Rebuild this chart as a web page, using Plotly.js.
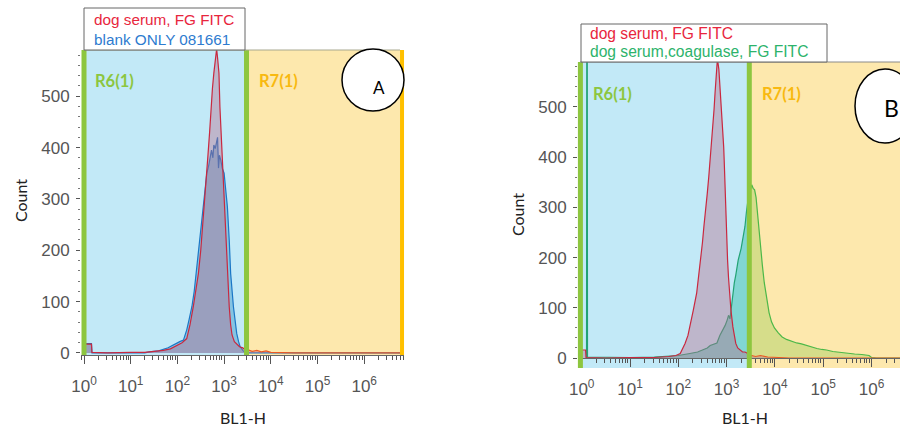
<!DOCTYPE html>
<html>
<head>
<meta charset="utf-8">
<script src="https://cdn.plot.ly/plotly-3.0.1.min.js"></script>
<style>html,body{margin:0;padding:0;background:#fff}#chart{width:900px;height:430px}</style>
</head>
<body>
<div id="chart"></div>
<script>
// ---------- data (x in log10 decades of BL1-H, y = Count) ----------
const tickValues = [1, 10, 100, 1000, 10000, 100000, 1000000];
const tickLabels = ['10<sup>0</sup>','10<sup>1</sup>','10<sup>2</sup>','10<sup>3</sup>','10<sup>4</sup>','10<sup>5</sup>','10<sup>6</sup>'];

// Panel A: dog serum, FG FITC
const redA_log   = [0.00,0.16,0.17,0.5,1.0,1.3,1.5,1.7,1.85,2.0,2.1,2.2,2.27,2.34,2.40,2.45,2.50,2.55,2.60,2.65,2.69,2.72,2.75,2.78,2.81,2.84,2.86,2.89,2.91,2.93,2.95,2.98,3.02,3.04,3.07,3.11,3.14,3.17,3.22,3.27,3.33,3.40,3.46,3.52,3.6,3.7,3.8,3.9,4.0,4.5,6.85];
const redA_count = [17,17,1,0,1,1,3,5,8,15,20,28,55,90,125,155,200,255,320,380,430,480,515,545,570,592,575,545,480,440,414,350,285,220,155,90,55,35,22,18,12,10,5,6,3,5,2,4,1,0,0];
// Panel A: blank ONLY 081661
const blueA_log   = [0.00,0.16,0.17,1.3,1.4,1.6,1.8,1.95,2.05,2.13,2.2,2.25,2.31,2.36,2.40,2.44,2.48,2.52,2.55,2.59,2.63,2.67,2.70,2.73,2.76,2.78,2.81,2.84,2.86,2.88,2.90,2.93,2.96,3.00,3.03,3.07,3.11,3.14,3.20,3.24,3.27,3.31,3.34,3.40,3.45,3.5,6.85];
const blueA_count = [18,18,0,0,2,4,10,18,22,25,45,65,90,120,155,185,220,250,285,320,350,365,385,395,380,405,398,410,420,360,385,375,360,350,320,285,220,155,90,55,38,22,13,5,1,0,0];

// Panel B: dog serum, FG FITC
const redB_log   = [0.00,0.08,0.09,0.5,1.0,1.5,1.8,1.95,2.04,2.14,2.20,2.24,2.31,2.38,2.42,2.46,2.50,2.53,2.57,2.60,2.63,2.66,2.69,2.71,2.74,2.76,2.78,2.81,2.84,2.86,2.88,2.90,2.92,2.94,2.95,2.97,2.99,3.00,3.02,3.04,3.06,3.09,3.13,3.16,3.19,3.23,3.28,3.33,3.38,3.42,3.46,3.52,3.6,3.7,3.85,4.0,4.3,6.6];
const redB_count = [16,16,1,0,1,1,3,5,9,29,45,62,95,129,160,195,230,262,295,328,360,394,430,460,495,527,555,596,575,545,527,495,460,420,394,328,295,262,195,160,129,95,62,45,29,20,15,12,12,10,4,5,3,5,2,1,0,0];
// Panel B: dog serum,coagulase, FG FITC
const greenB_log   = [0.10,0.11,0.12,0.5,1.0,1.5,1.8,2.0,2.24,2.4,2.5,2.6,2.66,2.75,2.8,2.86,2.92,2.97,3.01,3.04,3.07,3.10,3.13,3.16,3.19,3.24,3.30,3.38,3.41,3.45,3.49,3.52,3.55,3.58,3.61,3.64,3.67,3.70,3.74,3.78,3.83,3.88,3.93,3.99,4.07,4.15,4.24,4.35,4.45,4.55,4.65,4.75,4.87,4.97,5.07,5.2,5.35,5.5,5.65,5.8,5.95,6.0,6.1,6.6];
const greenB_count = [0,1200,2,1,1,2,3,5,9,12,16,20,25,28,30,45,55,65,75,85,78,105,129,150,165,195,218,262,290,320,335,345,338,335,320,285,255,220,185,150,115,90,72,60,50,42,37,33,30,28,25,22,19,17,16,13,11,9,8,7,5,1,0,0];

// gate boundaries (log10 decades)
const gateA = [0, 3.48, 6.81];
const gateB = [0, 3.47];

// ---------- geometry helpers ----------
const W = 900, H = 430;
const px = x => x / W;
const py = y => 1 - y / H;
const rangeA = [(81 - 84) / 46.7, (404 - 84) / 46.7];
const rangeB = [(578 - 581.7) / 48.3, (900 - 581.7) / 48.3];
const domA = v => (v - rangeA[0]) / (rangeA[1] - rangeA[0]);
const domB = v => (v - rangeB[0]) / (rangeB[1] - rangeB[0]);
const pow10 = a => a.map(v => Math.pow(10, v));

function part(logs, counts, lo, hi) {
  const xs = [], ys = [];
  for (let i = 0; i < logs.length; i++) {
    const inside = logs[i] >= lo && logs[i] <= hi;
    const prevIn = i > 0 && logs[i-1] >= lo && logs[i-1] <= hi;
    const nextIn = i < logs.length - 1 && logs[i+1] >= lo && logs[i+1] <= hi;
    if (inside || prevIn || nextIn) { xs.push(logs[i]); ys.push(counts[i]); }
  }
  return {x: pow10(xs), y: ys};
}

const redFill = 'rgba(185,106,138,0.4)';
const blueFill = 'rgba(60,150,200,0.45)';
const redLine = '#c9283f';
const redLineR7 = '#ec5a22';

const traces = [];
function addTrace(d, lineColor, fillColor, xa, ya) {
  traces.push({type:'scatter', mode:'lines', x:d.x, y:d.y, xaxis:xa, yaxis:ya,
    line:{color:lineColor, width:1.2}, fill:'tozeroy', fillcolor:fillColor, hoverinfo:'skip'});
}
// Panel A
addTrace(part(blueA_log, blueA_count, -1, 10), '#1b77c6', blueFill, 'x', 'y');
addTrace(part(redA_log, redA_count, -1, gateA[1]), redLine, redFill, 'x', 'y');
addTrace(part(redA_log, redA_count, gateA[1], 10), redLineR7, redFill, 'x', 'y');
// Panel B
addTrace(part(greenB_log, greenB_count, -1, gateB[1]), '#22a375', 'rgba(64,195,176,0.5)', 'x2', 'y2');
addTrace(part(greenB_log, greenB_count, gateB[1], 10), '#4cb848', 'rgba(175,209,104,0.5)', 'x2', 'y2');
addTrace(part(redB_log, redB_count, -1, gateB[1]), redLine, redFill, 'x2', 'y2');
addTrace(part(redB_log, redB_count, gateB[1], 10), redLineR7, redFill, 'x2', 'y2');

const gBlue = '#c2e9f7', gOrange = '#fde8ad', gGreen = '#8dc63f', gGold = '#ffc000';
const shapes = [
  // Panel A gates
  {type:'rect', xref:'x domain', yref:'y domain', x0:domA(gateA[0]), x1:domA(gateA[1]), y0:0, y1:1, fillcolor:gBlue, line:{width:0}, layer:'below'},
  {type:'rect', xref:'x domain', yref:'y domain', x0:domA(gateA[1]), x1:domA(gateA[2]), y0:0, y1:1, fillcolor:gOrange, line:{width:0}, layer:'below'},
  {type:'line', xref:'x domain', yref:'y domain', x0:domA(gateA[0]), x1:domA(gateA[0]), y0:0, y1:1, line:{color:gGreen, width:5}},
  {type:'line', xref:'x domain', yref:'y domain', x0:domA(gateA[1]), x1:domA(gateA[1]), y0:0, y1:1, line:{color:gGreen, width:5}},
  {type:'line', xref:'x domain', yref:'y domain', x0:domA(gateA[2]), x1:domA(gateA[2]), y0:0, y1:1, line:{color:gGold, width:4}},
  {type:'line', xref:'paper', yref:'paper', x0:px(84), x1:px(400), y0:py(50), y1:py(50), line:{color:'#a8a890', width:1}},
  // Panel B gates
  {type:'rect', xref:'x2 domain', yref:'y2 domain', x0:domB(gateB[0]), x1:domB(gateB[1]), y0:0, y1:1, fillcolor:gBlue, line:{width:0}, layer:'below'},
  {type:'rect', xref:'x2 domain', yref:'y2 domain', x0:domB(gateB[1]), x1:1, y0:0, y1:1, fillcolor:gOrange, line:{width:0}, layer:'below'},
  {type:'line', xref:'x2 domain', yref:'y2 domain', x0:domB(gateB[0]) - 0.004, x1:domB(gateB[0]) - 0.004, y0:0, y1:1, line:{color:gGreen, width:5}},
  {type:'line', xref:'x2 domain', yref:'y2 domain', x0:domB(gateB[1]), x1:domB(gateB[1]), y0:0, y1:1, line:{color:gGreen, width:5}},
  {type:'line', xref:'paper', yref:'paper', x0:px(580), x1:1, y0:py(62), y1:py(62), line:{color:'#8a8a8a', width:1}},
  // legend boxes
  {type:'rect', xref:'paper', yref:'paper', x0:px(84), x1:px(245), y0:py(50), y1:py(8), fillcolor:'#fff', line:{color:'#666', width:1}},
  {type:'rect', xref:'paper', yref:'paper', x0:px(581), x1:px(827), y0:py(62), y1:py(24), fillcolor:'#fff', line:{color:'#666', width:1}},
  // panel markers
  {type:'circle', xref:'paper', yref:'paper', x0:px(342), x1:px(404), y0:py(111), y1:py(49), fillcolor:'#fff', line:{color:'#000', width:1.5}},
  {type:'circle', xref:'paper', yref:'paper', x0:px(855), x1:px(915), y0:py(143), y1:py(69), fillcolor:'#fff', line:{color:'#000', width:1.5}}
];

const legFont = 'Liberation Sans, Arial, sans-serif';
const calFont = 'Lato, Carlito, sans-serif';
function ann(x, y, text, opts) {
  return Object.assign({xref:'paper', yref:'paper', x:px(x), y:py(y), text:text, showarrow:false,
    xanchor:'center', yanchor:'middle', font:{family:calFont, size:16, color:'#222'}}, opts || {});
}
const annotations = [
  ann(92, 20, 'dog serum, FG FITC', {xanchor:'left', font:{family:legFont, size:15.3, color:'#e8263d'}}),
  ann(92, 40, 'blank ONLY 081661', {xanchor:'left', font:{family:legFont, size:15.3, color:'#2e7bcf'}}),
  ann(588, 34, 'dog serum, FG FITC', {xanchor:'left', font:{family:legFont, size:15.6, color:'#e8263d'}}),
  ann(588, 52, 'dog serum,coagulase, FG FITC', {xanchor:'left', font:{family:legFont, size:15.6, color:'#2db36b'}}),
  ann(115, 81, '<b>R6(1)</b>', {font:{family:calFont, size:16.5, color:'#8cc63f'}}),
  ann(278, 81, '<b>R7(1)</b>', {font:{family:calFont, size:16.5, color:'#f8b910'}}),
  ann(612, 94, '<b>R6(1)</b>', {font:{family:calFont, size:16.5, color:'#8cc63f'}}),
  ann(781, 94, '<b>R7(1)</b>', {font:{family:calFont, size:16.5, color:'#f8b910'}}),
  ann(379, 87, 'A', {font:{family:calFont, size:17, color:'#000'}}),
  ann(891, 108, 'B', {font:{family:calFont, size:23, color:'#000'}}),
  ann(20, 201, 'Count', {textangle:-90, font:{family:calFont, size:16, color:'#222'}}),
  ann(517, 215, 'Count', {textangle:-90, font:{family:calFont, size:16, color:'#222'}}),
  ann(243, 417, 'BL1-H', {font:{family:calFont, size:16, color:'#222'}}),
  ann(745, 417, 'BL1-H', {font:{family:calFont, size:16, color:'#222'}})
];

const tickFont = {family:'Liberation Sans, Arial, sans-serif', size:17, color:'#555'};
function xAxis(domain, range, extra) {
  return Object.assign({domain:domain, type:'log', range:range, tickmode:'array', tickvals:tickValues, ticktext:tickLabels,
    ticks:'outside', ticklen:8, tickcolor:'#555', tickwidth:1, showline:true, linecolor:'#666', linewidth:1,
    showgrid:false, zeroline:false, tickfont:tickFont, ticklabelstandoff:8, fixedrange:true,
    minor:{ticks:'outside', ticklen:4, tickcolor:'#555', dtick:'D1', showgrid:false}}, extra);
}
function yAxis(domain, range, extra) {
  return Object.assign({domain:domain, range:range, tick0:0, dtick:100, ticks:'outside', ticklen:4, tickcolor:'#555',
    showline:false, showgrid:false, zeroline:false, tickfont:tickFont, ticklabelstandoff:3, fixedrange:true,
    minor:{ticks:'outside', ticklen:2, tickcolor:'#777', dtick:20, showgrid:false}}, extra);
}

const layout = {
  width:W, height:H, autosize:false, showlegend:false,
  margin:{l:0, r:0, t:0, b:0},
  paper_bgcolor:'#fff', plot_bgcolor:'rgba(0,0,0,0)',
  xaxis: xAxis([px(81), px(404)], rangeA, {anchor:'y'}),
  yaxis: yAxis([py(355), py(50)], [-4, 590], {anchor:'x'}),
  xaxis2: xAxis([px(578), 1], rangeB, {anchor:'free', position:py(358)}),
  yaxis2: yAxis([py(368), py(62)], [-19.9, 589.6], {anchor:'x2'}),
  shapes: shapes,
  annotations: annotations
};

Plotly.newPlot('chart', traces, layout, {displayModeBar:false, staticPlot:true});
</script>
</body>
</html>
